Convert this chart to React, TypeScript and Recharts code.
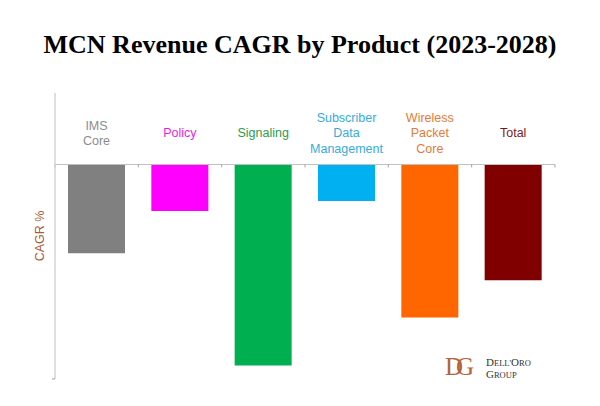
import React from "react";
import { BarChart, Bar, XAxis, YAxis, Cell, LabelList, ReferenceLine, Label } from "recharts";

const categories = ["IMS Core", "Policy", "Signaling", "Subscriber Data Management", "Wireless Packet Core", "Total"];
const cagrValues = [-12.4, -6.5, -28.1, -5.1, -21.4, -16.2];
const barColors = ["#808080", "#ff00ff", "#00b050", "#00b0f0", "#ff6600", "#800000"];
const labelColors = ["#8c8c8c", "#e61ee6", "#2f9a4c", "#35ace0", "#e57a35", "#7b1a1a"];
const yDomain: [number, number] = [-30, 10];

const data = categories.map((name, i) => ({ name, pos: i + 0.5, value: cagrValues[i], idx: i }));
const boundaries = categories.map((_, i) => i).concat([categories.length]);

const CategoryLabel = (props: any) => {
  const { x, y, width, height, index } = props;
  const cx = x + width / 2;
  const zeroY = Math.min(y, y + height);
  const center = zeroY - 31.5;
  const lines = categories[index].split(" ");
  const n = lines.length;
  const lh = 15.5;
  return (
    <text textAnchor="middle" fontFamily="'Liberation Sans', Arial, sans-serif" fontSize={12.5} fill={labelColors[index]}>
      {lines.map((l, i) => (
        <tspan key={i} x={cx} y={center + (i - (n - 1) / 2) * lh + 4.4}>{l}</tspan>
      ))}
    </text>
  );
};

export default function App() {
  return (
    <div style={{ position: "absolute", left: 0, top: 0, width: 600, height: 406, background: "#fff" }}>
      <div style={{ position: "absolute", left: 0, top: 30, width: 600, textAlign: "center", fontFamily: "'Liberation Serif', 'Times New Roman', serif", fontWeight: "bold", fontSize: 26, color: "#000" }}>
        MCN Revenue CAGR by Product (2023-2028)
      </div>
      <BarChart width={600} height={406} data={data} margin={{ top: 93, right: 45, bottom: 27, left: 0 }}>
        <XAxis xAxisId="x" type="number" dataKey="pos" domain={[0, categories.length]} hide />
        <YAxis
          yAxisId="y"
          type="number"
          domain={yDomain}
          ticks={[yDomain[0]]}
          width={55}
          axisLine={{ stroke: "#d4d4d4", strokeWidth: 1.5 }}
          tickLine={{ stroke: "#a0a0a0" }}
          tickSize={3}
          tick={() => <g />}
        >
          <Label
            value="CAGR %"
            angle={-90}
            position="insideLeft"
            offset={40}
            style={{ fill: "#a85a35", fontSize: 12.5, fontFamily: "'Liberation Sans', Arial, sans-serif", textAnchor: "middle" }}
          />
        </YAxis>
        <ReferenceLine xAxisId="x" yAxisId="y" y={0} stroke="#c0c0c0" strokeWidth={1} ifOverflow="extendDomain" />
        {boundaries.map((b) => (
          <ReferenceLine
            key={b}
            xAxisId="x"
            yAxisId="y"
            segment={[{ x: b, y: 0 }, { x: b, y: -0.4 }]}
            stroke="#a0a0a0"
          />
        ))}
        <Bar xAxisId="x" yAxisId="y" dataKey="value" barSize={57} isAnimationActive={false}>
          {data.map((d, i) => (
            <Cell key={i} fill={barColors[i]} />
          ))}
          <LabelList dataKey="value" content={CategoryLabel} />
        </Bar>
      </BarChart>
      <svg style={{ position: "absolute", left: 440, top: 350 }} width={110} height={32}>
        <text x={5} y={25} fontFamily="'Liberation Serif', 'Times New Roman', serif" fontSize={25} fill="#b5643a" letterSpacing={-7}>DG</text>
        <text x={46} y={16} fontFamily="'Liberation Serif', 'Times New Roman', serif" fontSize={11} fill="#333">D<tspan fontSize={8.5}>ELL'</tspan>O<tspan fontSize={8.5}>RO</tspan></text>
        <text x={46} y={28} fontFamily="'Liberation Serif', 'Times New Roman', serif" fontSize={11} fill="#333">G<tspan fontSize={8.5}>ROUP</tspan></text>
      </svg>
    </div>
  );
}
